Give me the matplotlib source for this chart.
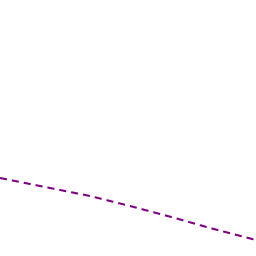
import matplotlib
matplotlib.use("Agg")
import matplotlib.pyplot as plt

x_vals = [0, 45, 90, 130, 175, 210, 256]
y_vals = [78, 69, 60, 50, 38, 28, 16]

fig = plt.figure(figsize=(2.56, 2.56), dpi=100)
ax = fig.add_axes([0, 0, 1, 1])
ax.plot(x_vals, y_vals, color="#800080", lw=1.5, linestyle=(0, (3.4, 2.4)))
ax.set_xlim(0, 256)
ax.set_ylim(0, 256)
ax.axis("off")

fig.savefig("out.png", dpi=100)
